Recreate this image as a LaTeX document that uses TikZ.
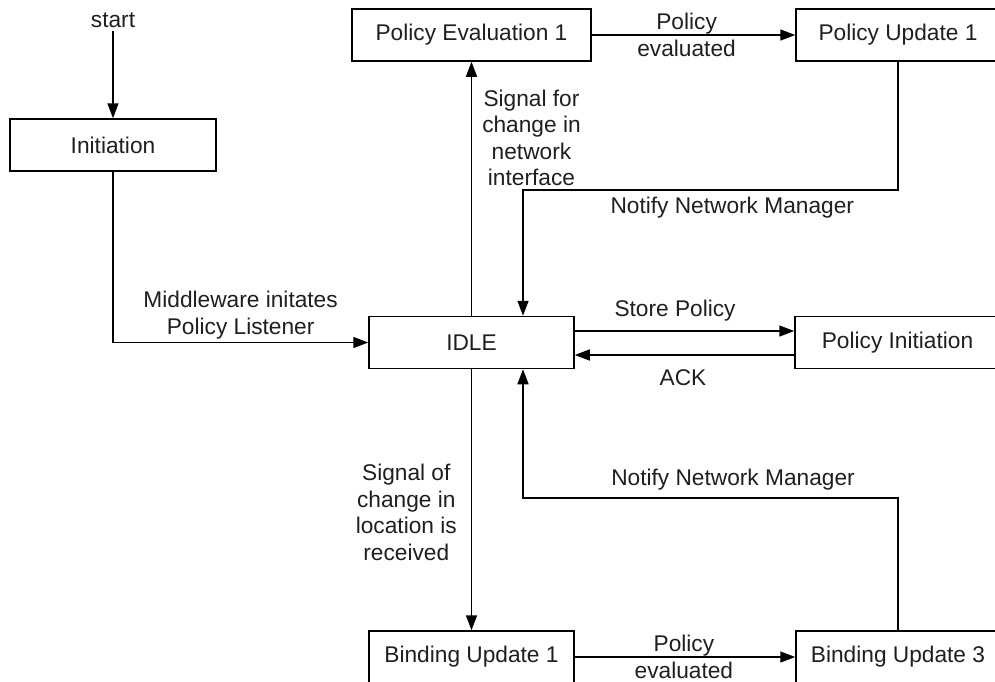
\documentclass[tikz,border=0pt]{standalone}
\usepackage{fontspec}
\setmainfont{Liberation Sans}
\usetikzlibrary{arrows.meta}
\begin{document}
\begin{tikzpicture}[x=1pt,y=-1pt,
  every node/.style={font=\fontsize{22.7}{26.5}\selectfont, text=black!88},
  box/.style={draw=black, line width=1.5pt, minimum height=52pt, inner sep=0pt},
  lbl/.style={align=center, inner sep=0pt},
  arr/.style={line width=1.5pt, -{Triangle[length=15pt,width=11pt]}}]
\useasboundingbox (0,0) rectangle (995,681);

% states
\node[lbl, inner sep=3pt] (start) at (113,20) {start};
\node[box, minimum width=206pt] (init) at (113,145) {Initiation};
\node[box, minimum width=239pt] (pe1)  at (471.5,35) {Policy Evaluation 1};
\node[box, minimum width=204pt] (pu1)  at (898,35) {Policy Update 1};
\node[box, minimum width=205pt] (idle) at (471.5,342.5) {IDLE};
\node[box, minimum width=205pt] (pi)   at (897.5,342.5) {Policy Initiation};
\node[box, minimum width=205pt] (bu1)  at (471.5,657) {Binding Update 1};
\node[box, minimum width=204pt] (bu3)  at (898,657) {Binding Update 3};

% bends of the notify loops
\coordinate (c1) at (523,190);
\coordinate (c2) at (523,498);

% transitions
\draw[arr] (start) -- (init);
\draw[arr] (init) |- node[lbl, pos=0.75, above=3pt]{Middleware initates\\Policy Listener} (idle);

\draw[arr] (idle) -- node[lbl, pos=0.70, right=10pt]{Signal for\\change in\\network\\interface} (pe1);
\draw[arr] (pe1) -- node[lbl, pos=0.466]{Policy\\evaluated} (pu1);
\draw[arr] (pu1.south) |- node[lbl, pos=0.721, below=6pt]{Notify Network Manager} (c1) -- (c1 |- idle.north);

\draw[arr] ([yshift=11.5pt]idle.east) -- node[lbl, pos=0.457, above=9pt]{Store Policy} ([yshift=11.5pt]pi.west);
\draw[arr] ([yshift=-12.5pt]pi.west) -- node[lbl, pos=0.507, below=14pt]{ACK} ([yshift=-12.5pt]idle.east);

\draw[arr] (idle) -- node[lbl, pos=0.548, left=14pt]{Signal of\\change in\\location is\\received} (bu1);
\draw[arr] (bu1) -- node[lbl, pos=0.495]{Policy\\evaluated} (bu3);
\draw[arr] (bu3.north) |- node[lbl, pos=0.72, above=7pt]{Notify Network Manager} (c2) -- (c2 |- idle.south);
\end{tikzpicture}
\end{document}
